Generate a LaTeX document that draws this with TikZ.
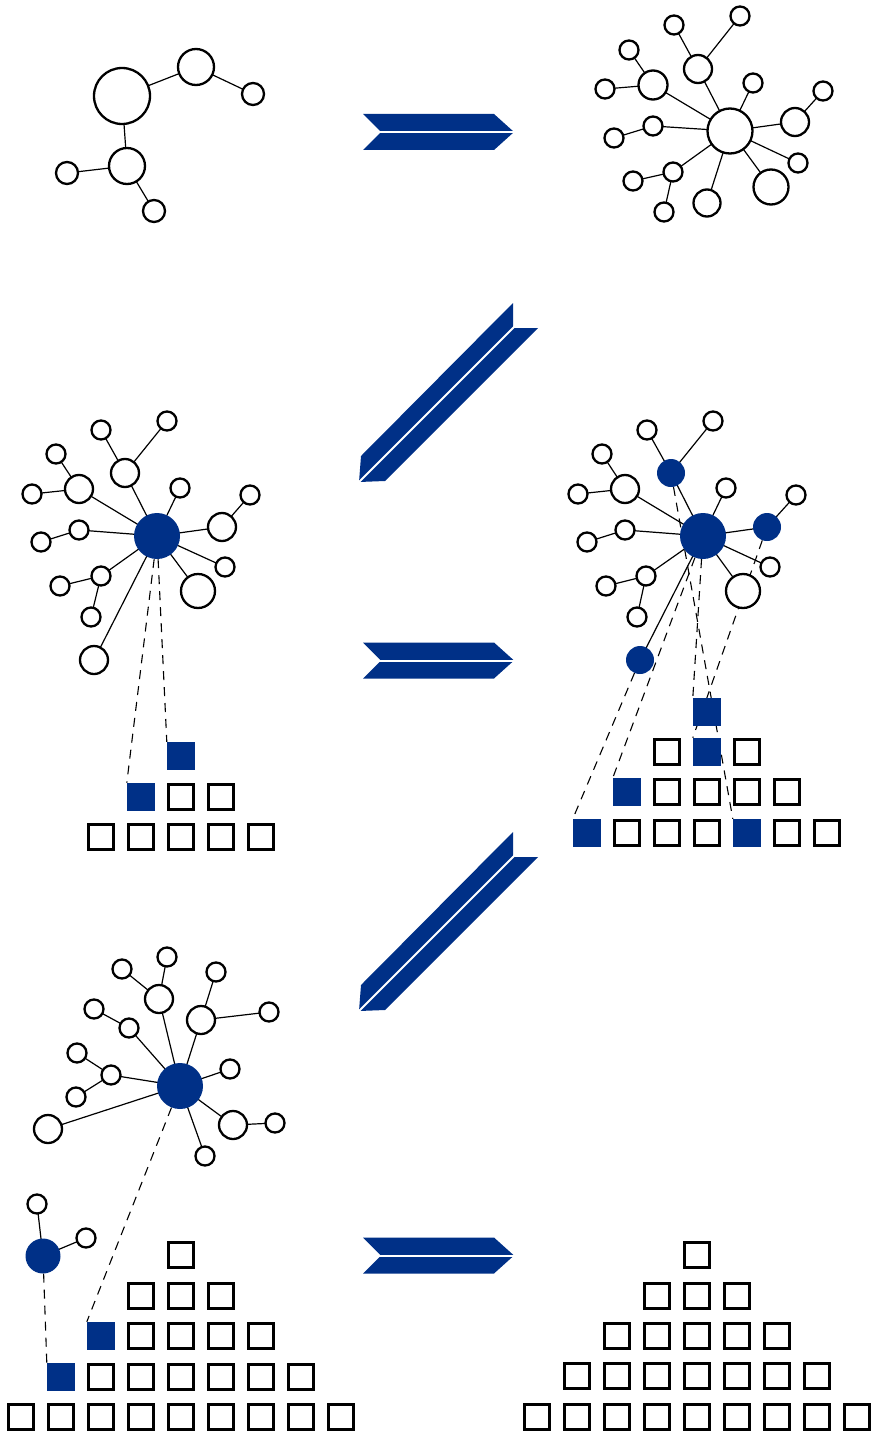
\documentclass[tikz,border=0pt]{standalone}
\usetikzlibrary{backgrounds}
\definecolor{navy}{RGB}{0,48,135}
\newcommand{\hchev}[1]{%
  \fill[navy] (363,#1-18) -- (494,#1-18) -- (514,#1) -- (494,#1+18) -- (363,#1+18) -- (381,#1) -- cycle;
  \draw[white,line width=2pt] (378,#1) -- (517,#1);}
\newcommand{\dchev}[1]{%
  \fill[navy] (513,303+#1) -- (513,328+#1) -- (538,328+#1) -- (385,481+#1) -- (359,482+#1) -- (361,456+#1) -- cycle;
  \draw[white,line width=2pt] (515,326+#1) -- (357,484+#1);}
\begin{document}
\begin{tikzpicture}[x=1pt,y=-1pt,
  nd/.style={circle,draw=black,line width=2.3pt,fill=white,inner sep=0pt,minimum size=#1},
  fn/.style={circle,fill=navy,draw=none,inner sep=0pt,minimum size=#1},
  sq/.style={rectangle,draw=black,line width=2.9pt,fill=white,inner sep=0pt,minimum size=25.6pt},
  fsq/.style={rectangle,fill=navy,draw=none,inner sep=0pt,minimum size=28pt},
  ln/.style={line width=1.2pt},
  dsh/.style={line width=1.1pt,dash pattern=on 9pt off 7pt}]
\useasboundingbox (0,0) rectangle (873,1434);

% ---------- top-left graph ----------
\node[nd=56pt] (a) at (122,96) {};
\node[nd=36pt] (a1) at (196,67) {};
\node[nd=22pt] (a2) at (253,94) {};
\node[nd=36pt] (a3) at (127,166) {};
\node[nd=22pt] (a4) at (67,173) {};
\node[nd=22pt] (a5) at (154,211) {};

% ---------- top-right graph ----------
\node[nd=45pt] (h) at (730,131) {};
\node[nd=28pt] (t1) at (698,69) {};
\node[nd=19pt] (t1a) at (674,25) {};
\node[nd=19pt] (t1b) at (740,16) {};
\node[nd=29pt] (t2) at (653,85) {};
\node[nd=19pt] (t2a) at (629,50) {};
\node[nd=19pt] (t2b) at (605,89) {};
\node[nd=19pt] (t3) at (653,126) {};
\node[nd=19pt] (t3a) at (614,138) {};
\node[nd=19pt] (t4) at (673,172) {};
\node[nd=19pt] (t4a) at (633,181) {};
\node[nd=19pt] (t4b) at (664,212) {};
\node[nd=27pt] (t5) at (707,203) {};
\node[nd=35pt] (t6) at (771,187) {};
\node[nd=19pt] (t7) at (798,163) {};
\node[nd=28pt] (t8) at (795,122) {};
\node[nd=19pt] (t8a) at (823,91) {};
\node[nd=19pt] (t9) at (753,83) {};

% ---------- middle-left graph ----------
\node[fn=46pt] (mlc) at (157,536) {};
\node[nd=28pt] (ml1) at (125,473) {};
\node[nd=19pt] (ml1a) at (101,430) {};
\node[nd=19pt] (ml1b) at (167,421) {};
\node[nd=28pt] (ml2) at (79,489) {};
\node[nd=19pt] (ml2a) at (56,454) {};
\node[nd=19pt] (ml2b) at (32,494) {};
\node[nd=19pt] (ml3) at (79,530) {};
\node[nd=19pt] (ml3a) at (41,542) {};
\node[nd=19pt] (ml4) at (101,576) {};
\node[nd=19pt] (ml4a) at (60,586) {};
\node[nd=19pt] (ml4b) at (91,617) {};
\node[nd=28pt] (ml5) at (94,660) {};
\node[nd=34pt] (ml6) at (198,591) {};
\node[nd=19pt] (ml7) at (225,567) {};
\node[nd=28pt] (ml8) at (222,527) {};
\node[nd=19pt] (ml8a) at (250,495) {};
\node[nd=19pt] (ml9) at (180,488) {};

% ---------- middle-right graph ----------
\node[fn=46pt] (mrc) at (703,536) {};
\node[fn=28pt] (mr1) at (671,473) {};
\node[nd=19pt] (mr1a) at (647,430) {};
\node[nd=19pt] (mr1b) at (713,421) {};
\node[nd=28pt] (mr2) at (625,489) {};
\node[nd=19pt] (mr2a) at (602,454) {};
\node[nd=19pt] (mr2b) at (578,494) {};
\node[nd=19pt] (mr3) at (625,530) {};
\node[nd=19pt] (mr3a) at (587,542) {};
\node[nd=19pt] (mr4) at (646,576) {};
\node[nd=19pt] (mr4a) at (606,586) {};
\node[nd=19pt] (mr4b) at (637,617) {};
\node[fn=28pt] (mr5) at (640,660) {};
\node[nd=34pt] (mr6) at (743,591) {};
\node[nd=19pt] (mr7) at (770,567) {};
\node[fn=28pt] (mr8) at (767,527) {};
\node[nd=19pt] (mr8a) at (796,495) {};
\node[nd=19pt] (mr9) at (726,488) {};

% ---------- bottom-left graph ----------
\node[fn=46pt] (bc) at (180,1086) {};
\node[nd=28pt] (b1) at (159,999) {};
\node[nd=19pt] (b1a) at (122,969) {};
\node[nd=19pt] (b1b) at (167,957) {};
\node[nd=28pt] (b2) at (201,1020) {};
\node[nd=19pt] (b2a) at (216,972) {};
\node[nd=19pt] (b2b) at (269,1012) {};
\node[nd=19pt] (b3) at (129,1028) {};
\node[nd=19pt] (b3a) at (94,1009) {};
\node[nd=19pt] (b4) at (111,1075) {};
\node[nd=19pt] (b4a) at (77,1053) {};
\node[nd=19pt] (b4b) at (76,1097) {};
\node[nd=28pt] (b5) at (48,1129) {};
\node[nd=19pt] (b6) at (230,1069) {};
\node[nd=28pt] (b7) at (233,1125) {};
\node[nd=19pt] (b7a) at (275,1123) {};
\node[nd=19pt] (b8) at (205,1156) {};
% small graph
\node[fn=35pt] (sc) at (43,1256) {};
\node[nd=19pt] (sca) at (37,1204) {};
\node[nd=19pt] (scb) at (86,1238) {};

% ---------- squares: middle-left ----------
\node[fsq] (mlq0) at (181,756) {};
\node[fsq] (mlq1a) at (141,797) {};
\foreach \x [count=\i] in {181,221} \node[sq] (mlq1-\i) at (\x,797) {};
\foreach \x [count=\i] in {101,141,181,221,261} \node[sq] (mlq2-\i) at (\x,837) {};

% ---------- squares: middle-right ----------
\node[fsq] (mrq0) at (707,712) {};
\node[sq] (mrq1-1) at (667,752) {};
\node[fsq] (mrq1-2) at (707,752) {};
\node[sq] (mrq1-3) at (747,752) {};
\node[fsq] (mrq2-1) at (627,792) {};
\foreach \x [count=\i from 2] in {667,707,747,787} \node[sq] (mrq2-\i) at (\x,792) {};
\node[fsq] (mrq3-1) at (587,833) {};
\foreach \x [count=\i from 2] in {627,667,707} \node[sq] (mrq3-\i) at (\x,833) {};
\node[fsq] (mrq3-5) at (747,833) {};
\foreach \x [count=\i from 6] in {787,827} \node[sq] (mrq3-\i) at (\x,833) {};

% ---------- squares: bottom-left ----------
\node[sq] (blq0) at (181,1255) {};
\foreach \x [count=\i] in {141,181,221} \node[sq] (blq1-\i) at (\x,1296) {};
\node[fsq] (blq2-1) at (101,1336) {};
\foreach \x [count=\i from 2] in {141,181,221,261} \node[sq] (blq2-\i) at (\x,1336) {};
\node[fsq] (blq3-1) at (61,1377) {};
\foreach \x [count=\i from 2] in {101,141,181,221,261,301} \node[sq] (blq3-\i) at (\x,1377) {};
\foreach \x [count=\i] in {21,61,101,141,181,221,261,301,341} \node[sq] (blq4-\i) at (\x,1417) {};

% ---------- squares: bottom-right ----------
\node[sq] (brq0) at (697,1255) {};
\foreach \x [count=\i] in {657,697,737} \node[sq] (brq1-\i) at (\x,1296) {};
\foreach \x [count=\i] in {617,657,697,737,777} \node[sq] (brq2-\i) at (\x,1336) {};
\foreach \x [count=\i] in {577,617,657,697,737,777,817} \node[sq] (brq3-\i) at (\x,1376) {};
\foreach \x [count=\i] in {537,577,617,657,697,737,777,817,857} \node[sq] (brq4-\i) at (\x,1417) {};

% ---------- chevron arrows ----------
\hchev{132}
\hchev{660.5}
\hchev{1255.5}
\dchev{0}
\dchev{529}

% ---------- connectors ----------
\begin{pgfonlayer}{background}
\draw[ln] (a.center) -- (a1.center) -- (a2.center);
\draw[ln] (a.center) -- (a3.center);
\draw[ln] (a3.center) -- (a4.center);
\draw[ln] (a3.center) -- (a5.center);

\foreach \n in {t1,t2,t3,t4,t5,t6,t7,t8,t9} \draw[ln] (h.center) -- (\n.center);
\draw[ln] (t1.center) -- (t1a.center);
\draw[ln] (t1.center) -- (t1b.center);
\draw[ln] (t2.center) -- (t2a.center);
\draw[ln] (t2.center) -- (t2b.center);
\draw[ln] (t3.center) -- (t3a.center);
\draw[ln] (t4.center) -- (t4a.center);
\draw[ln] (t4.center) -- (t4b.center);
\draw[ln] (t8.center) -- (t8a.center);

\foreach \p in {ml,mr} {
  \foreach \n in {1,2,3,4,5,6,7,8,9} \draw[ln] (\p c.center) -- (\p\n.center);
  \draw[ln] (\p1.center) -- (\p1a.center);
  \draw[ln] (\p1.center) -- (\p1b.center);
  \draw[ln] (\p2.center) -- (\p2a.center);
  \draw[ln] (\p2.center) -- (\p2b.center);
  \draw[ln] (\p3.center) -- (\p3a.center);
  \draw[ln] (\p4.center) -- (\p4a.center);
  \draw[ln] (\p4.center) -- (\p4b.center);
  \draw[ln] (\p8.center) -- (\p8a.center);
}

\foreach \n in {b1,b2,b3,b4,b5,b6,b7,b8} \draw[ln] (bc.center) -- (\n.center);
\draw[ln] (b1.center) -- (b1a.center);
\draw[ln] (b1.center) -- (b1b.center);
\draw[ln] (b2.center) -- (b2a.center);
\draw[ln] (b2.center) -- (b2b.center);
\draw[ln] (b3.center) -- (b3a.center);
\draw[ln] (b4.center) -- (b4a.center);
\draw[ln] (b4.center) -- (b4b.center);
\draw[ln] (b7.center) -- (b7a.center);
\draw[ln] (sc.center) -- (sca.center);
\draw[ln] (sc.center) -- (scb.center);

% dashed links
\draw[dsh] (mlc) -- (mlq1a.north west);
\draw[dsh] (mlc) -- (mlq0.north west);
\draw[dsh] (mrc) -- (mrq2-1.north west);
\draw[dsh] (mrc) -- (mrq0.north west);
\draw[dsh] (mr1) -- (mrq3-5.north west);
\draw[dsh] (mr8) -- (mrq1-2.north west);
\draw[dsh] (mr5) -- (mrq3-1.north west);
\draw[dsh] (bc) -- (blq2-1.north west);
\draw[dsh] (sc) -- (blq3-1.north west);
\end{pgfonlayer}
\end{tikzpicture}
\end{document}
